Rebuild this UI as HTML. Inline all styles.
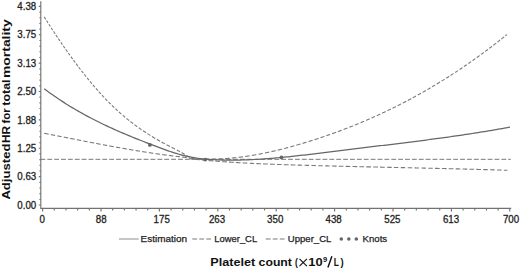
<!DOCTYPE html>
<html><head><meta charset="utf-8"><style>
html,body{margin:0;padding:0;background:#fff;width:520px;height:270px;overflow:hidden}
svg{display:block}
text{font-family:"Liberation Sans",sans-serif;fill:#1e1e1e}
.tl{font-size:10px;stroke:#222;stroke-width:0.3px}
.lg{font-size:9.3px;stroke:#222;stroke-width:0.25px}
.at{font-size:11px;font-weight:bold;fill:#111}
.ax{font-size:11.6px}
</style></head><body>
<svg width="520" height="270" viewBox="0 0 520 270">
<path d="M40.8,1.2 V208.3 H511.2" fill="none" stroke="#727272" stroke-width="1.15"/>
<path d="M42.60,208.3 v3.2 M54.28,208.3 v2.2 M65.96,208.3 v2.2 M77.64,208.3 v2.2 M89.32,208.3 v2.2 M101.00,208.3 v3.2 M112.68,208.3 v2.2 M124.36,208.3 v2.2 M136.04,208.3 v2.2 M147.72,208.3 v2.2 M159.40,208.3 v3.2 M171.08,208.3 v2.2 M182.76,208.3 v2.2 M194.44,208.3 v2.2 M206.12,208.3 v2.2 M217.80,208.3 v3.2 M229.48,208.3 v2.2 M241.16,208.3 v2.2 M252.84,208.3 v2.2 M264.52,208.3 v2.2 M276.20,208.3 v3.2 M287.88,208.3 v2.2 M299.56,208.3 v2.2 M311.24,208.3 v2.2 M322.92,208.3 v2.2 M334.60,208.3 v3.2 M346.28,208.3 v2.2 M357.96,208.3 v2.2 M369.64,208.3 v2.2 M381.32,208.3 v2.2 M393.00,208.3 v3.2 M404.68,208.3 v2.2 M416.36,208.3 v2.2 M428.04,208.3 v2.2 M439.72,208.3 v2.2 M451.40,208.3 v3.2 M463.08,208.3 v2.2 M474.76,208.3 v2.2 M486.44,208.3 v2.2 M498.12,208.3 v2.2 M509.80,208.3 v3.2 M40.8,205.00 h-2.0 M40.8,199.33 h-1.4 M40.8,193.65 h-1.4 M40.8,187.98 h-1.4 M40.8,182.30 h-1.4 M40.8,176.63 h-2.0 M40.8,170.95 h-1.4 M40.8,165.28 h-1.4 M40.8,159.61 h-1.4 M40.8,153.93 h-1.4 M40.8,148.26 h-2.0 M40.8,142.58 h-1.4 M40.8,136.91 h-1.4 M40.8,131.23 h-1.4 M40.8,125.56 h-1.4 M40.8,119.89 h-2.0 M40.8,114.21 h-1.4 M40.8,108.54 h-1.4 M40.8,102.86 h-1.4 M40.8,97.19 h-1.4 M40.8,91.51 h-2.0 M40.8,85.84 h-1.4 M40.8,80.17 h-1.4 M40.8,74.49 h-1.4 M40.8,68.82 h-1.4 M40.8,63.14 h-2.0 M40.8,57.47 h-1.4 M40.8,51.79 h-1.4 M40.8,46.12 h-1.4 M40.8,40.45 h-1.4 M40.8,34.77 h-2.0 M40.8,29.10 h-1.4 M40.8,23.42 h-1.4 M40.8,17.75 h-1.4 M40.8,12.07 h-1.4 M40.8,6.40 h-2.0" fill="none" stroke="#727272" stroke-width="1.15"/>
<text x="42.30" y="222.6" text-anchor="middle" class="tl" textLength="5.39" lengthAdjust="spacingAndGlyphs">0</text>
<text x="101.20" y="222.6" text-anchor="middle" class="tl" textLength="10.79" lengthAdjust="spacingAndGlyphs">88</text>
<text x="161.70" y="222.6" text-anchor="middle" class="tl" textLength="16.18" lengthAdjust="spacingAndGlyphs">175</text>
<text x="217.00" y="222.6" text-anchor="middle" class="tl" textLength="16.18" lengthAdjust="spacingAndGlyphs">263</text>
<text x="275.20" y="222.6" text-anchor="middle" class="tl" textLength="16.18" lengthAdjust="spacingAndGlyphs">350</text>
<text x="333.60" y="222.6" text-anchor="middle" class="tl" textLength="16.18" lengthAdjust="spacingAndGlyphs">438</text>
<text x="392.40" y="222.6" text-anchor="middle" class="tl" textLength="16.18" lengthAdjust="spacingAndGlyphs">525</text>
<text x="451.00" y="222.6" text-anchor="middle" class="tl" textLength="16.18" lengthAdjust="spacingAndGlyphs">613</text>
<text x="511.00" y="222.6" text-anchor="middle" class="tl" textLength="16.18" lengthAdjust="spacingAndGlyphs">700</text>
<text x="36.2" y="208.70" text-anchor="end" class="tl" textLength="18.88" lengthAdjust="spacingAndGlyphs">0.00</text>
<text x="36.2" y="180.33" text-anchor="end" class="tl" textLength="18.88" lengthAdjust="spacingAndGlyphs">0.63</text>
<text x="36.2" y="151.96" text-anchor="end" class="tl" textLength="18.88" lengthAdjust="spacingAndGlyphs">1.25</text>
<text x="36.2" y="123.59" text-anchor="end" class="tl" textLength="18.88" lengthAdjust="spacingAndGlyphs">1.88</text>
<text x="36.2" y="95.21" text-anchor="end" class="tl" textLength="18.88" lengthAdjust="spacingAndGlyphs">2.50</text>
<text x="36.2" y="66.84" text-anchor="end" class="tl" textLength="18.88" lengthAdjust="spacingAndGlyphs">3.13</text>
<text x="36.2" y="38.47" text-anchor="end" class="tl" textLength="18.88" lengthAdjust="spacingAndGlyphs">3.75</text>
<text x="36.2" y="10.10" text-anchor="end" class="tl" textLength="18.88" lengthAdjust="spacingAndGlyphs">4.38</text>
<path d="M40.42,159.3 H510.8" fill="none" stroke="#777" stroke-width="1" stroke-dasharray="4.85 2.03"/>
<path d="M44.20,16.85 L44.47,17.28 L44.73,17.70 L45.00,18.12 L45.27,18.54 L45.53,18.96 L45.80,19.39 M46.60,20.65 L46.87,21.07 L47.13,21.48 L47.40,21.90 L47.67,22.32 L47.93,22.74 L48.07,22.95 M48.87,24.19 L49.13,24.61 L49.40,25.02 L49.67,25.44 L49.93,25.85 L50.20,26.27 L50.33,26.47 M51.27,27.91 L51.53,28.32 L51.80,28.73 L52.07,29.14 L52.33,29.55 L52.60,29.95 L52.73,30.16 M53.53,31.38 L53.80,31.78 L54.07,32.19 L54.33,32.60 L54.60,33.00 L54.87,33.40 L55.13,33.80 M55.93,35.01 L56.20,35.41 L56.47,35.81 L56.73,36.21 L57.00,36.61 L57.27,37.01 L57.53,37.41 M58.33,38.60 L58.60,38.99 L58.87,39.39 L59.13,39.78 L59.40,40.18 L59.67,40.57 L59.93,40.97 M60.87,42.34 L61.13,42.73 L61.40,43.12 L61.67,43.51 L61.93,43.90 L62.20,44.29 L62.47,44.67 M63.27,45.83 L63.53,46.22 L63.80,46.60 L64.07,46.99 L64.34,47.39 L64.63,47.79 L64.91,48.20 M65.77,49.43 L66.06,49.84 L66.34,50.25 L66.63,50.65 L66.91,51.05 L67.20,51.46 L67.49,51.86 M68.34,53.07 L68.63,53.47 L68.91,53.87 L69.20,54.27 L69.49,54.67 L69.77,55.07 L69.91,55.27 M70.91,56.65 L71.20,57.05 L71.49,57.44 L71.77,57.83 L72.06,58.23 L72.34,58.62 L72.63,59.01 M73.49,60.18 L73.77,60.57 L74.06,60.96 L74.34,61.34 L74.63,61.73 L74.91,62.11 L75.20,62.50 M76.06,63.65 L76.34,64.03 L76.63,64.41 L76.91,64.79 L77.20,65.17 L77.49,65.55 L77.77,65.93 L77.91,66.12 M78.77,67.25 L79.06,67.62 L79.34,67.99 L79.63,68.37 L79.91,68.74 L80.20,69.12 L80.49,69.48 M81.49,70.77 L81.77,71.14 L82.06,71.51 L82.35,71.89 L82.66,72.28 L82.97,72.68 L83.28,73.07 M84.35,74.43 L84.66,74.82 L84.97,75.20 L85.28,75.59 L85.58,75.98 L85.89,76.36 L86.05,76.55 M87.12,77.89 L87.43,78.27 L87.74,78.65 L88.05,79.03 L88.35,79.40 L88.66,79.78 L88.97,80.15 M90.05,81.46 L90.35,81.83 L90.66,82.20 L90.97,82.56 L91.28,82.93 L91.58,83.30 L91.89,83.67 M92.97,84.94 L93.28,85.30 L93.58,85.66 L93.89,86.02 L94.20,86.38 L94.51,86.74 L94.82,87.09 M95.89,88.34 L96.20,88.69 L96.51,89.04 L96.82,89.39 L97.12,89.74 L97.43,90.09 L97.74,90.44 L97.89,90.61 M98.87,91.70 L99.20,92.07 L99.53,92.45 L99.87,92.82 L100.20,93.19 L100.53,93.55 L100.87,93.92 M102.03,95.19 L102.37,95.55 L102.70,95.91 L103.03,96.27 L103.37,96.62 L103.70,96.98 L104.03,97.34 M105.20,98.57 L105.53,98.92 L105.87,99.27 L106.20,99.62 L106.53,99.96 L106.87,100.30 L107.20,100.64 L107.37,100.81 M108.53,102.01 L108.87,102.34 L109.20,102.68 L109.53,103.01 L109.87,103.35 L110.20,103.68 L110.53,104.01 L110.70,104.18 M111.87,105.32 L112.20,105.65 L112.53,105.97 L112.87,106.29 L113.20,106.61 L113.53,106.93 L113.87,107.25 L114.20,107.57 M115.47,108.77 L115.84,109.11 L116.20,109.45 L116.56,109.78 L116.93,110.12 L117.29,110.45 L117.65,110.78 M118.93,111.93 L119.29,112.26 L119.65,112.58 L120.02,112.90 L120.38,113.23 L120.75,113.54 L121.11,113.86 L121.29,114.02 M122.75,115.27 L123.11,115.58 L123.47,115.89 L123.84,116.20 L124.20,116.51 L124.56,116.81 L124.93,117.11 L125.11,117.26 M126.56,118.46 L126.93,118.76 L127.29,119.05 L127.65,119.35 L128.02,119.64 L128.38,119.93 L128.75,120.22 L129.11,120.51 M130.38,121.51 L130.75,121.80 L131.11,122.08 L131.47,122.36 L131.84,122.64 L132.20,122.92 L132.56,123.19 L132.93,123.47 L133.11,123.61 M134.60,124.73 L135.00,125.02 L135.40,125.32 L135.80,125.61 L136.20,125.91 L136.60,126.20 L137.00,126.49 L137.20,126.63 M138.80,127.78 L139.20,128.06 L139.60,128.34 L140.00,128.62 L140.40,128.90 L140.80,129.18 L141.20,129.46 L141.60,129.73 M143.00,130.69 L143.40,130.96 L143.80,131.23 L144.20,131.50 L144.60,131.77 L145.00,132.03 L145.40,132.30 L145.80,132.56 L146.00,132.70 M147.40,133.61 L147.80,133.87 L148.20,134.12 L148.60,134.38 L149.00,134.63 L149.40,134.88 L149.80,135.14 L150.20,135.39 L150.40,135.51 M152.00,136.50 L152.40,136.75 L152.80,136.99 L153.20,137.23 L153.60,137.47 L154.00,137.72 L154.40,137.95 L154.80,138.19 L155.20,138.43 M156.80,139.36 L157.20,139.59 L157.60,139.82 L158.00,140.05 L158.40,140.28 L158.80,140.51 L159.20,140.73 L159.60,140.95 L160.00,141.18 M161.60,142.06 L162.00,142.28 L162.40,142.49 L162.80,142.71 L163.20,142.92 L163.60,143.14 L164.00,143.35 L164.40,143.57 L164.80,143.78 M166.60,144.73 L167.00,144.93 L167.40,145.14 L167.80,145.35 L168.20,145.56 L168.60,145.77 L169.00,145.97 L169.40,146.18 L169.80,146.39 L170.00,146.49 M171.60,147.32 L172.00,147.53 L172.40,147.73 L172.80,147.94 L173.20,148.15 L173.60,148.35 L174.00,148.56 L174.40,148.77 L174.80,148.98 L175.00,149.08 M176.80,150.02 L177.20,150.23 L177.60,150.44 L178.00,150.65 L178.40,150.87 L178.80,151.08 L179.20,151.30 L179.60,151.51 L180.00,151.72 M181.60,152.60 L182.00,152.82 L182.40,153.04 L182.80,153.26 L183.20,153.49 L183.60,153.71 L184.00,153.93 L184.40,154.16 L184.80,154.39 M186.60,155.44 L187.00,155.67 L187.40,155.91 L187.80,156.15 L188.20,156.39 L188.60,156.63 L189.00,156.88 L189.36,157.16 L189.55,157.31 M190.82,158.32 L191.22,158.48 L191.67,158.51 L192.11,158.55 L192.56,158.58 L193.00,158.61 L193.44,158.64 L193.89,158.67 L194.33,158.70 L194.78,158.73 L195.22,158.76 M197.67,158.90 L198.11,158.92 L198.56,158.94 L199.00,158.96 L199.44,158.98 L199.89,158.99 L200.33,159.01 L200.78,159.03 L201.22,159.04 L201.67,159.06 L202.11,159.07 M204.33,159.13 L204.78,159.13 L205.22,159.14 L205.67,159.15 L206.11,159.15 L206.56,159.16 L207.00,159.16 L207.44,159.16 L207.89,159.17 L208.33,159.17 L208.78,159.17 L209.00,159.17 M211.22,159.15 L211.67,159.15 L212.11,159.14 L212.56,159.14 L213.00,159.13 L213.44,159.12 L213.89,159.11 L214.33,159.10 L214.78,159.09 L215.22,159.08 L215.67,159.06 L215.89,159.06 M218.11,158.98 L218.56,158.96 L219.00,158.94 L219.44,158.92 L219.89,158.90 L220.33,158.88 L220.78,158.86 L221.22,158.84 L221.67,158.81 L222.11,158.79 L222.56,158.76 L222.78,158.75 M225.00,158.61 L225.44,158.58 L225.89,158.55 L226.33,158.51 L226.78,158.48 L227.22,158.45 L227.67,158.41 L228.11,158.38 L228.56,158.34 L229.00,158.31 L229.44,158.27 L229.67,158.25 M231.89,158.05 L232.33,158.01 L232.78,157.96 L233.22,157.92 L233.67,157.87 L234.11,157.83 L234.56,157.78 L235.00,157.74 L235.44,157.69 L235.89,157.64 L236.33,157.59 M238.56,157.34 L239.00,157.28 L239.44,157.23 L239.89,157.17 L240.33,157.12 L240.78,157.06 L241.22,157.01 L241.67,156.95 L242.11,156.89 L242.56,156.83 L243.00,156.77 M245.22,156.46 L245.67,156.40 L246.11,156.33 L246.56,156.27 L247.00,156.20 L247.44,156.14 L247.89,156.07 L248.33,156.00 L248.78,155.93 L249.22,155.86 L249.67,155.79 M251.89,155.44 L252.33,155.36 L252.78,155.29 L253.22,155.21 L253.67,155.14 L254.11,155.06 L254.56,154.98 L255.00,154.91 L255.44,154.83 L255.89,154.75 L256.33,154.67 M258.56,154.26 L259.00,154.18 L259.44,154.10 L259.89,154.01 L260.33,153.93 L260.78,153.84 L261.22,153.76 L261.67,153.67 L262.11,153.58 L262.56,153.49 L262.78,153.45 M265.00,153.00 L265.44,152.91 L265.89,152.81 L266.33,152.72 L266.78,152.63 L267.22,152.53 L267.67,152.44 L268.11,152.34 L268.56,152.25 L269.00,152.15 L269.22,152.10 M271.44,151.61 L271.89,151.51 L272.33,151.41 L272.78,151.31 L273.22,151.21 L273.67,151.10 L274.11,151.00 L274.56,150.90 L275.00,150.79 L275.44,150.69 L275.67,150.64 M277.67,150.16 L278.11,150.05 L278.56,149.94 L279.00,149.84 L279.44,149.73 L279.89,149.62 L280.33,149.51 L280.78,149.40 L281.22,149.28 L281.67,149.17 L281.89,149.12 M284.11,148.55 L284.56,148.43 L285.00,148.32 L285.44,148.20 L285.89,148.09 L286.33,147.97 L286.78,147.85 L287.22,147.74 L287.67,147.62 L288.11,147.50 M290.33,146.90 L290.78,146.78 L291.22,146.65 L291.67,146.53 L292.11,146.41 L292.56,146.28 L293.00,146.16 L293.44,146.04 L293.89,145.91 L294.33,145.79 M296.33,145.22 L296.78,145.09 L297.22,144.96 L297.67,144.83 L298.11,144.71 L298.56,144.58 L299.00,144.45 L299.44,144.32 L299.89,144.19 L300.33,144.06 L300.56,143.99 M302.56,143.40 L303.00,143.26 L303.44,143.13 L303.89,142.99 L304.33,142.86 L304.78,142.73 L305.22,142.59 L305.67,142.45 L306.11,142.32 L306.56,142.18 M308.56,141.56 L309.00,141.43 L309.44,141.29 L309.89,141.15 L310.33,141.01 L310.78,140.87 L311.22,140.73 L311.67,140.59 L312.11,140.45 L312.56,140.30 M314.56,139.66 L315.00,139.52 L315.44,139.38 L315.89,139.23 L316.33,139.09 L316.78,138.94 L317.22,138.80 L317.67,138.65 L318.11,138.51 L318.56,138.36 M320.56,137.70 L321.00,137.55 L321.44,137.40 L321.89,137.25 L322.33,137.10 L322.78,136.95 L323.22,136.80 L323.67,136.65 L324.11,136.50 L324.33,136.42 M326.33,135.73 L326.78,135.58 L327.22,135.43 L327.67,135.27 L328.11,135.12 L328.56,134.96 L329.00,134.81 L329.44,134.65 L329.89,134.49 L330.11,134.42 M332.11,133.71 L332.56,133.55 L333.00,133.39 L333.44,133.23 L333.89,133.07 L334.33,132.91 L334.78,132.75 L335.22,132.59 L335.67,132.43 L336.11,132.26 M337.89,131.61 L338.33,131.45 L338.78,131.29 L339.22,131.12 L339.67,130.95 L340.11,130.79 L340.56,130.62 L341.00,130.46 L341.44,130.29 L341.67,130.21 M343.67,129.45 L344.11,129.28 L344.56,129.11 L345.00,128.94 L345.44,128.77 L345.89,128.60 L346.33,128.43 L346.78,128.26 L347.22,128.09 L347.44,128.00 M349.44,127.22 L349.89,127.04 L350.33,126.87 L350.78,126.69 L351.22,126.52 L351.67,126.34 L352.11,126.16 L352.56,125.99 L353.00,125.81 M355.00,125.00 L355.44,124.82 L355.89,124.64 L356.33,124.46 L356.78,124.28 L357.22,124.10 L357.67,123.92 L358.11,123.73 L358.56,123.55 M360.56,122.72 L361.00,122.54 L361.44,122.35 L361.89,122.17 L362.33,121.98 L362.78,121.79 L363.22,121.60 L363.67,121.42 L364.11,121.23 M366.11,120.37 L366.56,120.18 L367.00,119.99 L367.44,119.80 L367.89,119.61 L368.33,119.42 L368.78,119.22 L369.22,119.03 L369.67,118.83 M371.44,118.05 L371.89,117.86 L372.33,117.66 L372.78,117.46 L373.22,117.27 L373.67,117.07 L374.11,116.87 L374.56,116.67 L375.00,116.47 M376.78,115.67 L377.22,115.47 L377.67,115.27 L378.11,115.06 L378.56,114.86 L379.00,114.66 L379.44,114.45 L379.89,114.25 L380.33,114.04 M382.11,113.22 L382.56,113.01 L383.00,112.80 L383.44,112.60 L383.89,112.39 L384.33,112.18 L384.78,111.97 L385.22,111.76 L385.67,111.55 M387.44,110.70 L387.89,110.49 L388.33,110.27 L388.78,110.06 L389.22,109.85 L389.67,109.63 L390.11,109.42 L390.56,109.20 L390.78,109.09 M392.56,108.22 L393.00,108.01 L393.44,107.79 L393.89,107.57 L394.33,107.35 L394.78,107.13 L395.22,106.91 L395.67,106.69 L395.89,106.57 M397.67,105.68 L398.11,105.46 L398.56,105.24 L399.00,105.01 L399.44,104.79 L399.89,104.56 L400.33,104.33 L400.78,104.11 L401.00,103.99 M402.78,103.08 L403.20,102.86 L403.60,102.66 L404.00,102.45 L404.40,102.24 L404.80,102.03 L405.20,101.82 L405.60,101.61 L406.00,101.40 L406.20,101.30 M407.80,100.46 L408.20,100.25 L408.60,100.03 L409.00,99.82 L409.40,99.61 L409.80,99.40 L410.20,99.18 L410.60,98.97 L411.00,98.75 L411.20,98.65 M412.80,97.78 L413.20,97.57 L413.60,97.35 L414.00,97.13 L414.40,96.91 L414.80,96.70 L415.20,96.48 L415.60,96.26 L416.00,96.04 M417.80,95.04 L418.20,94.82 L418.60,94.60 L419.00,94.38 L419.40,94.16 L419.80,93.93 L420.20,93.71 L420.60,93.48 L421.00,93.26 M422.60,92.36 L423.00,92.13 L423.40,91.90 L423.80,91.67 L424.20,91.44 L424.60,91.22 L425.00,90.99 L425.40,90.76 L425.80,90.53 M427.40,89.60 L427.80,89.37 L428.20,89.14 L428.60,88.91 L429.00,88.68 L429.40,88.44 L429.80,88.21 L430.20,87.97 L430.60,87.74 M432.20,86.79 L432.60,86.56 L433.00,86.32 L433.40,86.08 L433.80,85.84 L434.20,85.60 L434.60,85.36 L435.00,85.12 L435.20,85.00 M436.80,84.04 L437.20,83.80 L437.60,83.55 L438.00,83.31 L438.40,83.07 L438.80,82.83 L439.20,82.58 L439.60,82.34 L440.00,82.09 M441.60,81.11 L442.00,80.86 L442.40,80.61 L442.80,80.36 L443.20,80.11 L443.60,79.86 L444.00,79.61 L444.40,79.36 L444.60,79.24 M446.20,78.23 L446.60,77.98 L447.00,77.73 L447.40,77.47 L447.80,77.22 L448.20,76.97 L448.60,76.71 L449.00,76.46 L449.20,76.33 M450.60,75.43 L451.00,75.17 L451.40,74.92 L451.80,74.66 L452.20,74.40 L452.60,74.14 L453.00,73.88 L453.40,73.62 L453.60,73.49 M455.20,72.44 L455.60,72.18 L456.00,71.92 L456.40,71.65 L456.80,71.39 L457.20,71.13 L457.60,70.86 L458.00,70.59 M459.60,69.53 L460.00,69.26 L460.40,68.99 L460.80,68.72 L461.20,68.46 L461.60,68.19 L462.00,67.92 L462.40,67.65 M464.00,66.56 L464.40,66.29 L464.80,66.01 L465.20,65.74 L465.60,65.46 L466.00,65.19 L466.40,64.91 L466.80,64.64 M468.40,63.53 L468.80,63.25 L469.20,62.98 L469.60,62.70 L470.00,62.42 L470.40,62.14 L470.80,61.86 L471.20,61.58 M472.60,60.59 L473.00,60.31 L473.40,60.02 L473.80,59.74 L474.20,59.45 L474.60,59.17 L475.00,58.89 L475.40,58.60 M476.80,57.60 L477.20,57.31 L477.60,57.02 L478.00,56.73 L478.40,56.44 L478.80,56.15 L479.20,55.86 L479.60,55.57 M481.20,54.40 L481.60,54.11 L482.00,53.81 L482.40,53.52 L482.80,53.23 L483.20,52.93 L483.60,52.63 L483.80,52.49 M485.20,51.45 L485.60,51.15 L486.00,50.85 L486.40,50.55 L486.80,50.25 L487.18,49.96 L487.55,49.69 L487.91,49.42 M489.36,48.32 L489.73,48.04 L490.09,47.77 L490.45,47.49 L490.82,47.21 L491.18,46.94 L491.55,46.66 L491.91,46.38 L492.09,46.24 M493.36,45.26 L493.73,44.98 L494.09,44.70 L494.45,44.42 L494.82,44.14 L495.18,43.86 L495.55,43.58 L495.91,43.29 L496.09,43.15 M497.55,42.02 L497.91,41.73 L498.27,41.45 L498.64,41.16 L499.00,40.87 L499.36,40.59 L499.73,40.30 L500.09,40.01 M501.36,39.00 L501.73,38.71 L502.09,38.42 L502.45,38.13 L502.82,37.84 L503.18,37.55 L503.55,37.26 L503.91,36.97 L504.09,36.82 M505.36,35.80 L505.73,35.50 L506.09,35.21 L506.45,34.91 L506.82,34.62 L507.00,34.47" fill="none" stroke="#7a7a7a" stroke-width="1.1"/>
<path d="M44.20,133.29 L44.64,133.37 L45.09,133.46 L45.53,133.54 L45.98,133.63 L46.42,133.71 L46.87,133.80 L47.31,133.89 L47.76,133.97 L48.20,134.06 L48.64,134.14 M50.87,134.58 L51.31,134.66 L51.76,134.75 L52.20,134.84 L52.64,134.92 L53.09,135.01 L53.53,135.10 L53.98,135.18 L54.42,135.27 L54.87,135.36 L55.09,135.40 M57.31,135.83 L57.76,135.92 L58.20,136.01 L58.64,136.09 L59.09,136.18 L59.53,136.27 L59.98,136.35 L60.42,136.44 L60.87,136.53 L61.31,136.62 L61.53,136.66 M63.76,137.10 L64.20,137.18 L64.64,137.27 L65.09,137.36 L65.53,137.44 L65.98,137.53 L66.42,137.62 L66.87,137.71 L67.31,137.79 L67.76,137.88 L68.20,137.97 M70.20,138.36 L70.64,138.45 L71.09,138.53 L71.53,138.62 L71.98,138.71 L72.42,138.80 L72.87,138.88 L73.31,138.97 L73.76,139.06 L74.20,139.14 L74.64,139.23 M76.87,139.67 L77.31,139.75 L77.76,139.84 L78.20,139.93 L78.64,140.01 L79.09,140.10 L79.53,140.19 L79.98,140.28 L80.42,140.36 L80.87,140.45 L81.09,140.49 M83.31,140.92 L83.76,141.01 L84.20,141.10 L84.64,141.18 L85.09,141.27 L85.53,141.36 L85.98,141.44 L86.42,141.53 L86.87,141.62 L87.31,141.70 L87.53,141.74 M89.76,142.17 L90.20,142.26 L90.64,142.35 L91.09,142.43 L91.53,142.52 L91.98,142.60 L92.42,142.69 L92.87,142.77 L93.31,142.86 L93.76,142.94 L94.20,143.03 M96.20,143.41 L96.64,143.50 L97.09,143.58 L97.53,143.67 L97.98,143.75 L98.42,143.84 L98.87,143.92 L99.31,144.00 L99.76,144.09 L100.20,144.17 L100.64,144.26 M102.87,144.68 L103.31,144.76 L103.76,144.84 L104.20,144.93 L104.64,145.01 L105.09,145.09 L105.53,145.18 L105.98,145.26 L106.42,145.34 L106.87,145.42 L107.09,145.47 M109.31,145.88 L109.76,145.96 L110.20,146.04 L110.64,146.12 L111.09,146.21 L111.53,146.29 L111.98,146.37 L112.42,146.45 L112.87,146.53 L113.31,146.61 L113.76,146.69 M115.98,147.10 L116.42,147.18 L116.87,147.26 L117.31,147.34 L117.76,147.42 L118.20,147.50 L118.64,147.58 L119.09,147.66 L119.53,147.74 L119.98,147.82 L120.20,147.86 M122.42,148.25 L122.87,148.33 L123.31,148.41 L123.76,148.48 L124.20,148.56 L124.64,148.64 L125.09,148.72 L125.53,148.79 L125.98,148.87 L126.42,148.95 L126.87,149.03 M129.09,149.41 L129.53,149.48 L129.98,149.56 L130.42,149.64 L130.87,149.71 L131.31,149.79 L131.76,149.86 L132.20,149.94 L132.64,150.01 L133.09,150.09 L133.31,150.12 M135.53,150.50 L135.98,150.57 L136.42,150.64 L136.87,150.72 L137.31,150.79 L137.76,150.86 L138.20,150.93 L138.64,151.01 L139.09,151.08 L139.53,151.15 L139.98,151.22 M142.20,151.58 L142.64,151.65 L143.09,151.72 L143.53,151.79 L143.98,151.86 L144.42,151.93 L144.87,152.00 L145.31,152.07 L145.76,152.14 L146.20,152.21 L146.64,152.28 M148.87,152.62 L149.31,152.69 L149.76,152.76 L150.20,152.82 L150.64,152.89 L151.09,152.96 L151.53,153.02 L151.98,153.09 L152.42,153.16 L152.87,153.22 L153.31,153.29 M155.53,153.61 L155.98,153.68 L156.42,153.74 L156.87,153.81 L157.31,153.87 L157.76,153.93 L158.20,154.00 L158.64,154.06 L159.09,154.12 L159.53,154.19 L159.98,154.25 M162.20,154.56 L162.64,154.62 L163.09,154.68 L163.53,154.74 L163.98,154.80 L164.42,154.86 L164.87,154.92 L165.31,154.98 L165.76,155.04 L166.20,155.09 L166.64,155.15 M168.87,155.44 L169.31,155.50 L169.76,155.56 L170.20,155.61 L170.64,155.67 L171.09,155.72 L171.53,155.78 L171.98,155.84 L172.42,155.89 L172.87,155.94 L173.31,156.00 M175.53,156.27 L175.98,156.32 L176.42,156.37 L176.87,156.43 L177.31,156.48 L177.76,156.53 L178.20,156.58 L178.64,156.63 L179.09,156.68 L179.53,156.73 L179.98,156.78 M182.20,157.03 L182.64,157.08 L183.09,157.13 L183.53,157.17 L183.98,157.22 L184.42,157.27 L184.87,157.32 L185.31,157.36 L185.76,157.41 L186.20,157.46 L186.64,157.50 L186.87,157.52 M189.00,157.74 L189.40,157.97 L189.80,158.19 L190.20,158.42 L190.60,158.65 L191.00,158.88 L191.44,158.92 L191.89,158.97 L192.33,159.01 L192.78,159.06 M195.00,159.29 L195.44,159.33 L195.89,159.37 L196.33,159.42 L196.78,159.46 L197.22,159.51 L197.67,159.55 L198.11,159.59 L198.56,159.63 L199.00,159.68 L199.44,159.72 M201.89,159.95 L202.33,159.99 L202.78,160.03 L203.22,160.07 L203.67,160.11 L204.11,160.15 L204.56,160.19 L205.00,160.23 L205.44,160.27 L205.89,160.31 L206.33,160.35 M208.56,160.54 L209.00,160.58 L209.44,160.61 L209.89,160.65 L210.33,160.69 L210.78,160.73 L211.22,160.76 L211.67,160.80 L212.11,160.84 L212.56,160.87 L213.00,160.91 L213.22,160.93 M215.44,161.10 L215.89,161.14 L216.33,161.17 L216.78,161.20 L217.22,161.24 L217.67,161.27 L218.11,161.31 L218.56,161.34 L219.00,161.37 L219.44,161.41 L219.89,161.44 M222.33,161.62 L222.78,161.65 L223.22,161.68 L223.67,161.71 L224.11,161.74 L224.56,161.77 L225.00,161.80 L225.44,161.83 L225.89,161.86 L226.33,161.89 L226.78,161.92 M229.00,162.07 L229.44,162.10 L229.89,162.13 L230.33,162.16 L230.78,162.19 L231.22,162.21 L231.67,162.24 L232.11,162.27 L232.56,162.30 L233.00,162.33 L233.44,162.35 L233.67,162.37 M235.89,162.50 L236.33,162.53 L236.78,162.56 L237.22,162.58 L237.67,162.61 L238.11,162.63 L238.56,162.66 L239.00,162.69 L239.44,162.71 L239.89,162.74 L240.33,162.76 L240.56,162.77 M242.78,162.90 L243.22,162.92 L243.67,162.95 L244.11,162.97 L244.56,162.99 L245.00,163.02 L245.44,163.04 L245.89,163.06 L246.33,163.09 L246.78,163.11 L247.22,163.13 M249.67,163.26 L250.11,163.28 L250.56,163.30 L251.00,163.32 L251.44,163.34 L251.89,163.37 L252.33,163.39 L252.78,163.41 L253.22,163.43 L253.67,163.45 L254.11,163.47 M256.33,163.58 L256.78,163.60 L257.22,163.62 L257.67,163.64 L258.11,163.66 L258.56,163.68 L259.00,163.70 L259.44,163.72 L259.89,163.73 L260.33,163.75 L260.78,163.77 L261.00,163.78 M263.22,163.88 L263.67,163.90 L264.11,163.91 L264.56,163.93 L265.00,163.95 L265.44,163.97 L265.89,163.99 L266.33,164.01 L266.78,164.02 L267.22,164.04 L267.67,164.06 L267.89,164.07 M270.11,164.15 L270.56,164.17 L271.00,164.19 L271.44,164.21 L271.89,164.22 L272.33,164.24 L272.78,164.26 L273.22,164.27 L273.67,164.29 L274.11,164.31 L274.56,164.32 L274.78,164.33 M277.00,164.41 L277.44,164.43 L277.89,164.44 L278.33,164.46 L278.78,164.47 L279.22,164.49 L279.67,164.50 L280.11,164.52 L280.56,164.54 L281.00,164.55 L281.44,164.57 L281.67,164.57 M283.89,164.65 L284.33,164.66 L284.78,164.68 L285.22,164.69 L285.67,164.71 L286.11,164.72 L286.56,164.74 L287.00,164.75 L287.44,164.76 L287.89,164.78 L288.33,164.79 L288.56,164.80 M290.78,164.87 L291.22,164.88 L291.67,164.90 L292.11,164.91 L292.56,164.93 L293.00,164.94 L293.44,164.95 L293.89,164.97 L294.33,164.98 L294.78,164.99 L295.22,165.01 L295.44,165.01 M297.67,165.08 L298.11,165.09 L298.56,165.11 L299.00,165.12 L299.44,165.13 L299.89,165.15 L300.33,165.16 L300.78,165.17 L301.22,165.19 L301.67,165.20 L302.11,165.21 M304.56,165.28 L305.00,165.30 L305.44,165.31 L305.89,165.32 L306.33,165.33 L306.78,165.35 L307.22,165.36 L307.67,165.37 L308.11,165.38 L308.56,165.40 L309.00,165.41 M311.44,165.48 L311.89,165.49 L312.33,165.50 L312.78,165.51 L313.22,165.53 L313.67,165.54 L314.11,165.55 L314.56,165.56 L315.00,165.57 L315.44,165.59 L315.89,165.60 M318.33,165.66 L318.78,165.68 L319.22,165.69 L319.67,165.70 L320.11,165.71 L320.56,165.72 L321.00,165.74 L321.44,165.75 L321.89,165.76 L322.33,165.77 L322.78,165.78 M325.22,165.85 L325.67,165.86 L326.11,165.87 L326.56,165.88 L327.00,165.89 L327.44,165.90 L327.89,165.91 L328.33,165.93 L328.78,165.94 L329.22,165.95 L329.67,165.96 M331.89,166.02 L332.33,166.03 L332.78,166.04 L333.22,166.05 L333.67,166.06 L334.11,166.07 L334.56,166.08 L335.00,166.09 L335.44,166.10 L335.89,166.12 L336.33,166.13 L336.56,166.13 M338.78,166.19 L339.22,166.20 L339.67,166.21 L340.11,166.22 L340.56,166.23 L341.00,166.24 L341.44,166.25 L341.89,166.26 L342.33,166.27 L342.78,166.28 L343.22,166.29 L343.44,166.30 M345.67,166.35 L346.11,166.36 L346.56,166.37 L347.00,166.39 L347.44,166.40 L347.89,166.41 L348.33,166.42 L348.78,166.43 L349.22,166.44 L349.67,166.45 L350.11,166.46 L350.33,166.46 M352.56,166.52 L353.00,166.53 L353.44,166.54 L353.89,166.55 L354.33,166.56 L354.78,166.57 L355.22,166.58 L355.67,166.59 L356.11,166.60 L356.56,166.61 L357.00,166.62 L357.22,166.62 M359.44,166.67 L359.89,166.68 L360.33,166.70 L360.78,166.71 L361.22,166.72 L361.67,166.73 L362.11,166.74 L362.56,166.75 L363.00,166.76 L363.44,166.77 L363.89,166.78 L364.11,166.78 M366.33,166.83 L366.78,166.84 L367.22,166.85 L367.67,166.86 L368.11,166.87 L368.56,166.88 L369.00,166.89 L369.44,166.90 L369.89,166.91 L370.33,166.92 L370.78,166.93 L371.00,166.94 M373.22,166.98 L373.67,166.99 L374.11,167.00 L374.56,167.01 L375.00,167.02 L375.44,167.03 L375.89,167.04 L376.33,167.05 L376.78,167.06 L377.22,167.07 L377.67,167.08 L377.89,167.09 M380.11,167.14 L380.56,167.15 L381.00,167.16 L381.44,167.17 L381.89,167.18 L382.33,167.19 L382.78,167.20 L383.22,167.20 L383.67,167.21 L384.11,167.22 L384.56,167.23 L384.78,167.24 M387.00,167.29 L387.44,167.30 L387.89,167.31 L388.33,167.32 L388.78,167.33 L389.22,167.34 L389.67,167.35 L390.11,167.36 L390.56,167.37 L391.00,167.37 L391.44,167.38 L391.67,167.39 M393.89,167.44 L394.33,167.45 L394.78,167.46 L395.22,167.47 L395.67,167.48 L396.11,167.49 L396.56,167.50 L397.00,167.51 L397.44,167.52 L397.89,167.52 L398.33,167.53 M400.78,167.59 L401.22,167.60 L401.67,167.61 L402.11,167.62 L402.56,167.63 L403.00,167.64 L403.44,167.65 L403.89,167.66 L404.33,167.67 L404.78,167.67 L405.22,167.68 M407.67,167.74 L408.11,167.75 L408.56,167.76 L409.00,167.77 L409.44,167.78 L409.89,167.79 L410.33,167.80 L410.78,167.81 L411.22,167.82 L411.67,167.83 L412.11,167.84 M414.56,167.89 L415.00,167.90 L415.44,167.91 L415.89,167.92 L416.33,167.93 L416.78,167.94 L417.22,167.95 L417.67,167.96 L418.11,167.97 L418.56,167.98 L419.00,167.99 M421.44,168.04 L421.89,168.05 L422.33,168.06 L422.78,168.07 L423.22,168.08 L423.67,168.09 L424.11,168.10 L424.56,168.11 L425.00,168.12 L425.44,168.13 L425.89,168.14 M428.33,168.20 L428.78,168.21 L429.22,168.22 L429.67,168.23 L430.11,168.24 L430.56,168.25 L431.00,168.26 L431.44,168.27 L431.89,168.28 L432.33,168.29 L432.78,168.30 M435.00,168.35 L435.44,168.36 L435.89,168.37 L436.33,168.38 L436.78,168.39 L437.22,168.40 L437.67,168.41 L438.11,168.42 L438.56,168.43 L439.00,168.44 L439.44,168.45 L439.67,168.46 M441.89,168.51 L442.33,168.52 L442.78,168.53 L443.22,168.54 L443.67,168.55 L444.11,168.56 L444.56,168.57 L445.00,168.58 L445.44,168.59 L445.89,168.61 L446.33,168.62 L446.56,168.62 M448.78,168.67 L449.22,168.69 L449.67,168.70 L450.11,168.71 L450.56,168.72 L451.00,168.73 L451.44,168.74 L451.89,168.75 L452.33,168.76 L452.78,168.77 L453.22,168.78 L453.44,168.79 M455.67,168.84 L456.11,168.85 L456.56,168.87 L457.00,168.88 L457.44,168.89 L457.89,168.90 L458.33,168.91 L458.78,168.92 L459.22,168.93 L459.67,168.94 L460.11,168.95 L460.33,168.96 M462.56,169.02 L463.00,169.03 L463.44,169.04 L463.89,169.05 L464.33,169.06 L464.78,169.07 L465.22,169.09 L465.67,169.10 L466.11,169.11 L466.56,169.12 L467.00,169.13 L467.22,169.14 M469.44,169.20 L469.89,169.21 L470.33,169.22 L470.78,169.23 L471.22,169.24 L471.67,169.25 L472.11,169.27 L472.56,169.28 L473.00,169.29 L473.44,169.30 L473.89,169.31 L474.11,169.32 M476.33,169.38 L476.78,169.39 L477.22,169.40 L477.67,169.42 L478.11,169.43 L478.56,169.44 L479.00,169.45 L479.44,169.47 L479.89,169.48 L480.33,169.49 L480.78,169.50 L481.00,169.51 M483.22,169.57 L483.67,169.58 L484.11,169.60 L484.56,169.61 L485.00,169.62 L485.44,169.63 L485.89,169.65 L486.33,169.66 L486.78,169.67 L487.22,169.69 L487.67,169.70 L487.89,169.71 M490.11,169.77 L490.56,169.78 L491.00,169.80 L491.44,169.81 L491.89,169.82 L492.33,169.84 L492.78,169.85 L493.22,169.86 L493.67,169.88 L494.11,169.89 L494.56,169.90 M497.00,169.98 L497.44,169.99 L497.89,170.00 L498.33,170.02 L498.78,170.03 L499.22,170.04 L499.67,170.06 L500.11,170.07 L500.56,170.09 L501.00,170.10 L501.44,170.11 M503.89,170.19 L504.33,170.20 L504.78,170.22 L505.22,170.23 L505.67,170.25 L506.11,170.26 L506.56,170.27 L507.00,170.29 L507.33,170.30 L507.50,170.31" fill="none" stroke="#7a7a7a" stroke-width="1.1"/>
<path d="M44.20,88.71 L46.20,90.21 L48.20,91.69 L50.20,93.14 L52.20,94.56 L54.20,95.97 L56.20,97.35 L58.20,98.71 L60.20,100.04 L62.20,101.36 L64.20,102.65 L66.20,103.92 L68.20,105.17 L70.20,106.41 L72.20,107.62 L74.20,108.81 L76.20,109.99 L78.20,111.14 L80.20,112.28 L82.20,113.41 L84.20,114.51 L86.20,115.60 L88.20,116.67 L90.20,117.73 L92.20,118.77 L94.20,119.79 L96.20,120.80 L98.20,121.80 L100.20,122.78 L102.20,123.75 L104.20,124.71 L106.20,125.65 L108.20,126.59 L110.20,127.51 L112.20,128.42 L114.20,129.32 L116.20,130.21 L118.20,131.08 L120.20,131.95 L122.20,132.81 L124.20,133.67 L126.20,134.51 L128.20,135.34 L130.20,136.17 L132.20,136.99 L134.20,137.81 L136.20,138.61 L138.20,139.42 L140.20,140.21 L142.20,141.01 L144.20,141.79 L146.20,142.58 L148.20,143.35 L150.20,144.13 L152.20,144.90 L154.20,145.66 L156.20,146.42 L158.20,147.17 L160.20,147.91 L162.20,148.65 L164.20,149.37 L166.20,150.09 L168.20,150.79 L170.20,151.47 L172.20,152.14 L174.20,152.78 L176.20,153.40 L178.20,154.00 L180.20,154.57 L182.20,155.12 L184.20,155.63 L186.20,156.11 L188.20,156.55 L190.20,156.96 L192.20,157.34 L194.20,157.69 L196.20,158.01 L198.20,158.30 L200.20,158.56 L202.20,158.80 L204.20,159.01 L206.20,159.20 L208.20,159.37 L210.20,159.52 L212.20,159.64 L214.20,159.75 L216.20,159.85 L218.20,159.93 L220.20,159.99 L222.20,160.04 L224.20,160.08 L226.20,160.11 L228.20,160.13 L230.20,160.14 L232.20,160.13 L234.20,160.12 L236.20,160.10 L238.20,160.07 L240.20,160.03 L242.20,159.98 L244.20,159.92 L246.20,159.85 L248.20,159.77 L250.20,159.69 L252.20,159.60 L254.20,159.50 L256.20,159.39 L258.20,159.27 L260.20,159.15 L262.20,159.02 L264.20,158.88 L266.20,158.74 L268.20,158.59 L270.20,158.43 L272.20,158.27 L274.20,158.10 L276.20,157.93 L278.20,157.75 L280.20,157.56 L282.20,157.37 L284.20,157.18 L286.20,156.98 L288.20,156.77 L290.20,156.57 L292.20,156.35 L294.20,156.14 L296.20,155.92 L298.20,155.70 L300.20,155.47 L302.20,155.24 L304.20,155.01 L306.20,154.77 L308.20,154.54 L310.20,154.30 L312.20,154.06 L314.20,153.81 L316.20,153.57 L318.20,153.32 L320.20,153.08 L322.20,152.83 L324.20,152.58 L326.20,152.33 L328.20,152.08 L330.20,151.83 L332.20,151.58 L334.20,151.33 L336.20,151.08 L338.20,150.84 L340.20,150.59 L342.20,150.34 L344.20,150.10 L346.20,149.85 L348.20,149.61 L350.20,149.36 L352.20,149.12 L354.20,148.88 L356.20,148.63 L358.20,148.39 L360.20,148.15 L362.20,147.91 L364.20,147.67 L366.20,147.43 L368.20,147.19 L370.20,146.94 L372.20,146.70 L374.20,146.46 L376.20,146.22 L378.20,145.98 L380.20,145.74 L382.20,145.50 L384.20,145.26 L386.20,145.01 L388.20,144.77 L390.20,144.53 L392.20,144.28 L394.20,144.04 L396.20,143.80 L398.20,143.55 L400.20,143.30 L402.20,143.06 L404.20,142.81 L406.20,142.56 L408.20,142.31 L410.20,142.06 L412.20,141.81 L414.20,141.55 L416.20,141.30 L418.20,141.04 L420.20,140.79 L422.20,140.53 L424.20,140.27 L426.20,140.01 L428.20,139.75 L430.20,139.48 L432.20,139.22 L434.20,138.95 L436.20,138.68 L438.20,138.41 L440.20,138.14 L442.20,137.87 L444.20,137.59 L446.20,137.31 L448.20,137.03 L450.20,136.75 L452.20,136.47 L454.20,136.18 L456.20,135.89 L458.20,135.60 L460.20,135.31 L462.20,135.01 L464.20,134.71 L466.20,134.41 L468.20,134.11 L470.20,133.81 L472.20,133.50 L474.20,133.19 L476.20,132.87 L478.20,132.56 L480.20,132.24 L482.20,131.91 L484.20,131.59 L486.20,131.26 L488.20,130.93 L490.20,130.59 L492.20,130.26 L494.20,129.92 L496.20,129.57 L498.20,129.22 L500.20,128.87 L502.20,128.52 L504.20,128.16 L506.20,127.80 L508.20,127.43 L510.00,127.10" fill="none" stroke="#666" stroke-width="1.25" stroke-linejoin="round"/>
<circle cx="149.9" cy="144.9" r="1.9" fill="#666"/>
<circle cx="205.2" cy="159.6" r="1.9" fill="#666"/>
<circle cx="281.4" cy="157.4" r="1.9" fill="#666"/>
<text x="140.59" y="242.0" class="lg" textLength="46.40" lengthAdjust="spacingAndGlyphs">Estimation</text>
<text x="214.30" y="242.0" class="lg" textLength="42.83" lengthAdjust="spacingAndGlyphs">Lower_CL</text>
<text x="287.79" y="242.0" class="lg" textLength="43.58" lengthAdjust="spacingAndGlyphs">Upper_CL</text>
<text x="362.56" y="242.0" class="lg" textLength="24.62" lengthAdjust="spacingAndGlyphs">Knots</text>
<text x="210.30" y="266.0" class="at ax" textLength="45.01" lengthAdjust="spacingAndGlyphs">Platelet</text>
<text x="258.62" y="266.0" class="at ax" textLength="33.32" lengthAdjust="spacingAndGlyphs">count</text>
<text x="295.06" y="266.0" class="at ax" textLength="2.81" lengthAdjust="spacingAndGlyphs">(</text>
<text x="308.24" y="266.0" class="at ax" textLength="14.38" lengthAdjust="spacingAndGlyphs">10</text>
<text x="333.80" y="266.0" class="at ax" textLength="5.17" lengthAdjust="spacingAndGlyphs">L</text>
<text x="340.43" y="266.0" class="at ax" textLength="3.17" lengthAdjust="spacingAndGlyphs">)</text>
<path d="M119,239 H138.7" stroke="#a8a8a8" stroke-width="1.3"/>
<path d="M192.3,239 H211" stroke="#7a7a7a" stroke-width="1.1" stroke-dasharray="4.8 2.2"/>
<path d="M265.8,239 H284.8" stroke="#7a7a7a" stroke-width="1.1" stroke-dasharray="4.8 2.2"/>
<circle cx="341.3" cy="239" r="1.8" fill="#666"/>
<circle cx="348.8" cy="239" r="1.8" fill="#666"/>
<circle cx="356.3" cy="239" r="1.8" fill="#666"/>
<path d="M299.5,258.8 L306.9,266.1 M306.9,258.8 L299.5,266.1" stroke="#111" stroke-width="1.1"/>
<text x="323.1" y="261.5" class="at" style="font-size:7.5px">9</text>
<path d="M327.9,267.6 L331.9,256.3" stroke="#111" stroke-width="1.45"/>
<text transform="translate(10,199.62) rotate(-90)" x="0" y="0" class="at" textLength="56.15" lengthAdjust="spacingAndGlyphs">Adjusted</text>
<text transform="translate(10,143.05) rotate(-90)" x="0" y="0" class="at" textLength="17.05" lengthAdjust="spacingAndGlyphs">HR</text>
<text transform="translate(10,123.49) rotate(-90)" x="0" y="0" class="at" textLength="15.21" lengthAdjust="spacingAndGlyphs">for</text>
<text transform="translate(10,105.64) rotate(-90)" x="0" y="0" class="at" textLength="26.19" lengthAdjust="spacingAndGlyphs">total</text>
<text transform="translate(10,78.00) rotate(-90)" x="0" y="0" class="at" textLength="58.71" lengthAdjust="spacingAndGlyphs">mortality</text>
</svg>
</body></html>
